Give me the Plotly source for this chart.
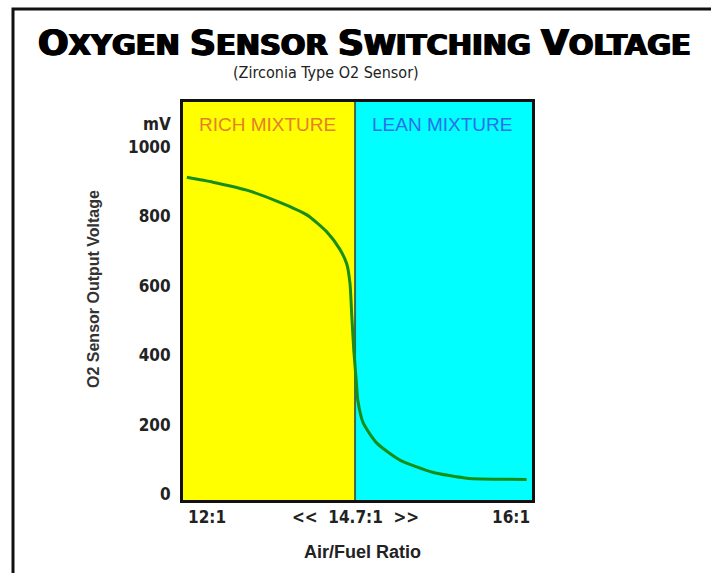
import numpy as np
import plotly.graph_objects as go

# Air/fuel ratio scale: the rich band (12:1 to 14.7:1) and the lean band
# (14.7:1 to 16:1) get roughly equal widths, so ratios go onto a piecewise axis.
AFR_BREAKS = [12.0, 14.7, 16.0]
AXIS_POS = [0.0, 0.986, 2.0]

# Sensor output curve (air/fuel ratio, millivolts)
afr = [12.06, 12.47, 13.00, 13.52, 13.95, 14.26, 14.46, 14.57, 14.62, 14.65,
       14.68, 14.71, 14.72, 14.76, 14.86, 15.03, 15.27, 15.52, 15.96]
millivolts = [913, 899, 876, 841, 804, 755, 706, 663, 608, 510,
              415, 320, 271, 205, 147, 98, 63, 46, 42]

y_ticks = [0, 200, 400, 600, 800, 1000]
x_tick_labels = ["12:1", "<<  14.7:1  >>", "16:1"]


def to_axis(r):
    return np.interp(r, AFR_BREAKS, AXIS_POS)


x_pos = to_axis(np.array(afr))

W, H = 711, 573
L, R, T, B = 183, 179, 102, 73
pw, ph = W - L - R, H - T - B


def px(x):
    return (x - L) / pw


def py(y):
    return (H - B - y) / ph


fig = go.Figure()
fig.add_trace(go.Scatter(
    x=x_pos, y=millivolts, mode="lines",
    line=dict(color="#178f17", width=3, shape="spline", smoothing=0.6),
    hoverinfo="skip", showlegend=False,
))

shapes = [
    # rich / lean bands
    dict(type="rect", xref="x", yref="paper", x0=to_axis(12.0), x1=to_axis(14.7),
         y0=0, y1=1, fillcolor="#ffff00", line_width=0, layer="below"),
    dict(type="rect", xref="x", yref="paper", x0=to_axis(14.7), x1=to_axis(16.0),
         y0=0, y1=1, fillcolor="#00ffff", line_width=0, layer="below"),
    # stoichiometric divider
    dict(type="line", xref="x", yref="paper", x0=to_axis(14.7), x1=to_axis(14.7),
         y0=0, y1=1, line=dict(color="#3b6a4c", width=2), layer="below"),
    # outer frame (left and top edges)
    dict(type="path", xref="paper", yref="paper",
         path=f"M {px(13)},{py(575)} L {px(13)},{py(9)} L {px(713)},{py(9)}",
         line=dict(color="#111111", width=3)),
]

lab_font = dict(family="DejaVu Sans Condensed, Liberation Sans Narrow, Liberation Sans",
                size=17, color="#222222", weight="bold")

big = "<span style='font-size:36px'>{}</span>"
title_text = (big.format("O") + "XYGEN " + big.format("S") + "ENSOR "
              + big.format("S") + "WITCHING " + big.format("V") + "OLTAGE")

annotations = [
    dict(text=title_text, xref="paper", yref="paper", x=px(364), y=py(42),
         showarrow=False, xanchor="center", yanchor="middle",
         font=dict(family="DejaVu Sans", size=29, color="#000000", weight="bold",
                   shadow="1px 0px 0px #000, -1px 0px 0px #000")),
    dict(text="(Zirconia Type O2 Sensor)", xref="paper", yref="paper",
         x=px(326), y=py(72), showarrow=False, xanchor="center", yanchor="middle",
         font=dict(family="DejaVu Sans Condensed, DejaVu Sans", size=16,
                   color="#222222")),
    dict(text="RICH MIXTURE", xref="paper", yref="paper", x=px(267), y=py(124),
         showarrow=False, xanchor="center", yanchor="middle",
         font=dict(family="Liberation Sans", size=19, color="#e4802c")),
    dict(text="LEAN MIXTURE", xref="paper", yref="paper", x=px(442), y=py(124),
         showarrow=False, xanchor="center", yanchor="middle",
         font=dict(family="Liberation Sans", size=19, color="#2b6fe8")),
    dict(text="mV", xref="paper", yref="paper", x=px(173), y=py(124),
         showarrow=False, xanchor="right", yanchor="middle", font=lab_font),
    dict(text="O2 Sensor Output Voltage", xref="paper", yref="paper",
         x=px(93), y=py(289), showarrow=False, textangle=-90,
         xanchor="center", yanchor="middle",
         font=dict(family="Liberation Sans", size=16, color="#333333", weight="bold")),
    dict(text="Air/Fuel Ratio", xref="paper", yref="paper", x=px(362), y=py(552),
         showarrow=False, xanchor="center", yanchor="middle",
         font=dict(family="Liberation Sans", size=18, color="#222222", weight="bold")),
]

# x tick labels: first left-aligned, middle centred, last right-aligned
for label, r, anchor in zip(x_tick_labels, AFR_BREAKS, ["left", "center", "right"]):
    annotations.append(dict(
        text=label, xref="x", yref="paper", x=to_axis(r), y=py(517),
        showarrow=False, xanchor=anchor, yanchor="middle", font=lab_font,
        xshift=3 if anchor == "left" else 0))

fig.update_layout(
    width=W, height=H,
    margin=dict(l=L, r=R, t=T, b=B),
    paper_bgcolor="#ffffff", plot_bgcolor="#ffffff",
    shapes=shapes, annotations=annotations,
    xaxis=dict(range=[AXIS_POS[0], AXIS_POS[-1]], showgrid=False, zeroline=False,
               showticklabels=False, showline=True, mirror=True,
               linecolor="#111111", linewidth=3, fixedrange=True),
    yaxis=dict(range=[-17, 1130], tickvals=y_ticks,
               ticktext=[str(v) for v in y_ticks], showgrid=False, zeroline=False,
               showline=True, mirror=True, linecolor="#111111", linewidth=3,
               ticks="", ticklabelstandoff=6, tickfont=lab_font, fixedrange=True),
)

fig.write_html("out.html", config={"displayModeBar": False})
